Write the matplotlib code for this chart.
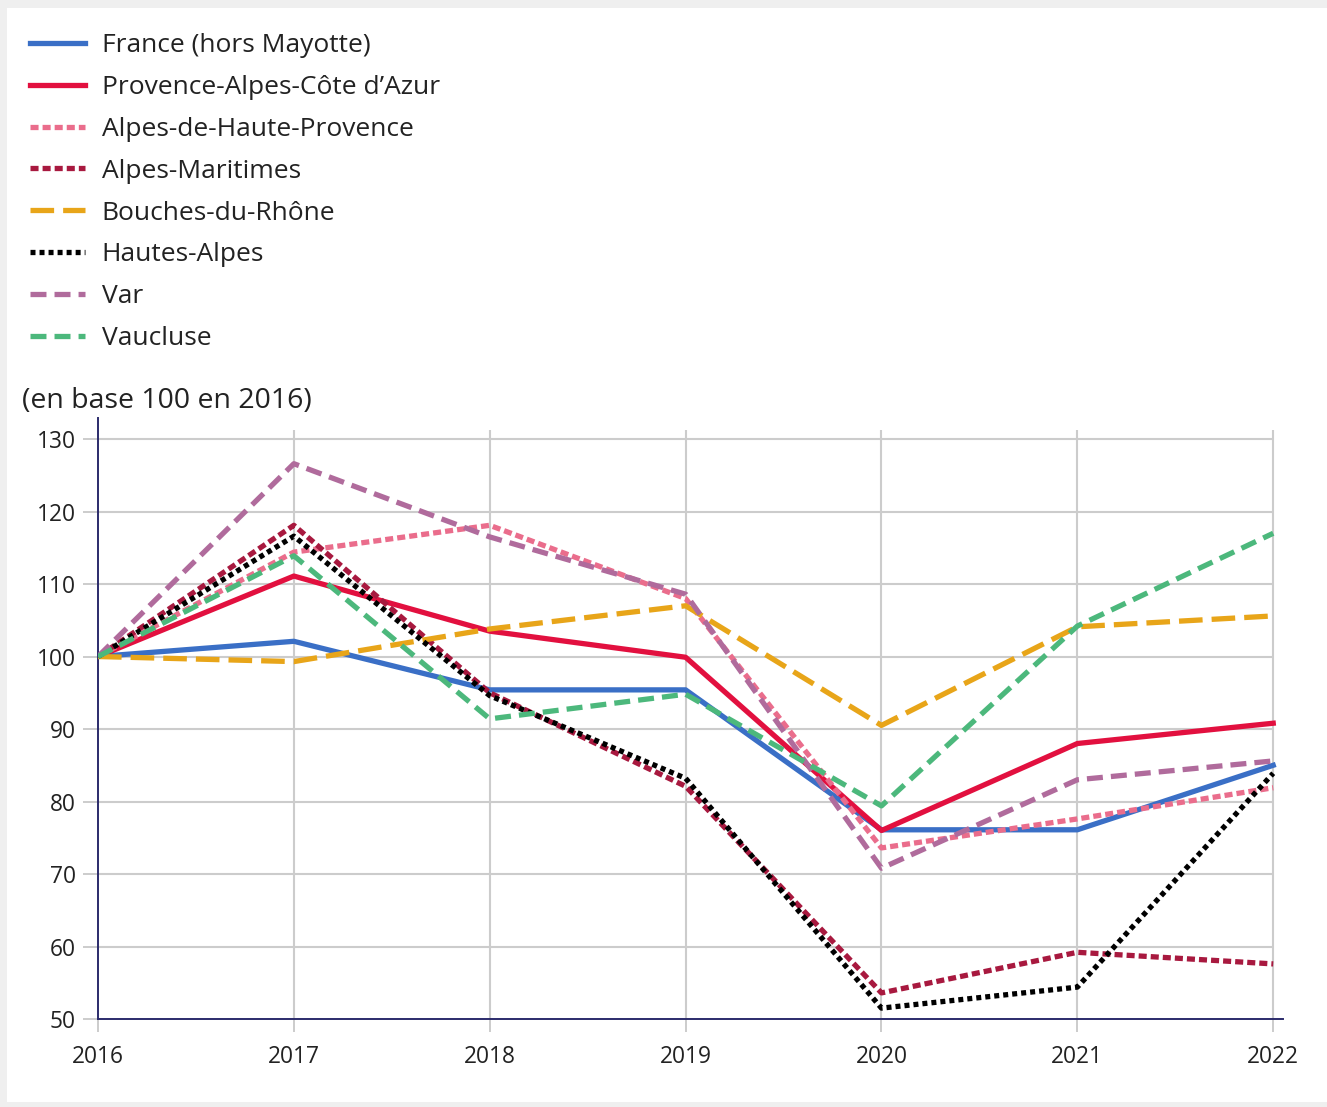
import matplotlib
matplotlib.use("Agg")
import matplotlib.pyplot as plt
from matplotlib.patches import Rectangle

plt.rcParams['font.family'] = ['Open Sans', 'DejaVu Sans']
plt.rcParams['lines.scale_dashes'] = False

years = [2016, 2017, 2018, 2019, 2020, 2021, 2022]

# indices en base 100 en 2016
france = [100, 102.1, 95.4, 95.4, 76.1, 76.1, 85.0]
paca = [100, 111.1, 103.5, 99.9, 76.0, 88.0, 90.8]
alpes_haute_prov = [100, 114.4, 118.1, 108.0, 73.6, 77.6, 81.9]
alpes_maritimes = [100, 118.1, 95.0, 82.1, 53.6, 59.2, 57.6]
bouches_rhone = [100, 99.3, 103.8, 107.0, 90.5, 104.1, 105.6]
hautes_alpes = [100, 116.6, 94.6, 83.2, 51.5, 54.4, 83.9]
var = [100, 126.6, 116.5, 108.6, 70.8, 83.0, 85.6]
vaucluse = [100, 113.9, 91.4, 94.8, 79.4, 104.2, 117.0]

series = [
    ("France (hors Mayotte)", france, "#3a6fc6", None),
    ("Provence-Alpes-Côte d\u2019Azur", paca, "#e2103f", None),
    ("Alpes-de-Haute-Provence", alpes_haute_prov, "#ea6d8c", (5.8, 2.9)),
    ("Alpes-Maritimes", alpes_maritimes, "#a8193f", (5.8, 2.9)),
    ("Bouches-du-Rhône", bouches_rhone, "#e8a519", (17, 6.5)),
    ("Hautes-Alpes", hautes_alpes, "#000000", (3.6, 2.9)),
    ("Var", var, "#b06b9c", (11.5, 5.8)),
    ("Vaucluse", vaucluse, "#4cb87c", (11.5, 5.8)),
]

fig = plt.figure(figsize=(13.27, 11.07), dpi=100)
fig.patch.set_facecolor("#efefef")
fig.patches.append(Rectangle((7 / 1327, 5 / 1107), 1, 1 - 13 / 1107,
                             transform=fig.transFigure, facecolor="white",
                             edgecolor="none", zorder=-5))

ax = fig.add_axes([0.07385, 0.07949, 0.8930, 0.5429])
ax.set_facecolor("none")
ax.set_xlim(2016, 2022.05)
ax.set_ylim(50, 132.9)

# grille
ax.hlines(range(60, 131, 10), 2016, 2022, color="#cccccc", lw=1.5, zorder=1)
ax.vlines(years[1:], 50, 131.2, color="#cccccc", lw=1.5, zorder=1)

for name, vals, col, dash in series:
    if dash is None:
        ax.plot(years, vals, color=col, lw=3.8, label=name, zorder=3)
    else:
        ax.plot(years, vals, color=col, lw=3.8, label=name, zorder=3,
                linestyle=(0, dash))

ax.set_xticks(years)
ax.set_yticks(range(50, 131, 10))
ax.tick_params(axis="y", length=11, width=1.4, color="#cccccc",
               labelsize=16.4, labelcolor="#222222", pad=5)
ax.tick_params(axis="x", length=9, width=1.4, color="#cccccc",
               labelsize=16.4, labelcolor="#222222", pad=10)
for s in ["top", "right"]:
    ax.spines[s].set_visible(False)
for s in ["left", "bottom"]:
    ax.spines[s].set_color("#2b2b6b")
    ax.spines[s].set_linewidth(1.4)

fig.text(22 / 1327, 1 - 401 / 1107, "(en base 100 en 2016)", fontsize=20.5,
         color="#222222", va="center", ha="left")

fig.legend(loc="upper left", bbox_to_anchor=(30 / 1327, 1 - 33 / 1107),
           frameon=False, fontsize=19, handlelength=2.1, handletextpad=0.62,
           labelspacing=0.64, labelcolor="#222222", borderpad=0,
           borderaxespad=0)

fig.savefig("out.png", dpi=100, facecolor=fig.get_facecolor())
